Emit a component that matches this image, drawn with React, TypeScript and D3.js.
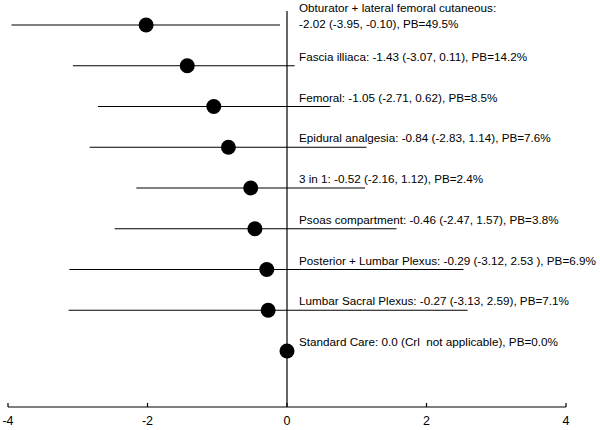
import React from "react";
import * as d3 from "d3";

const categories = [
  "Obturator + lateral femoral cutaneous",
  "Fascia illiaca",
  "Femoral",
  "Epidural analgesia",
  "3 in 1",
  "Psoas compartment",
  "Posterior + Lumbar Plexus",
  "Lumbar Sacral Plexus",
  "Standard Care",
];
const estimates = [-2.02, -1.43, -1.05, -0.84, -0.52, -0.46, -0.29, -0.27, 0.0];
const lowers = [-3.95, -3.07, -2.71, -2.83, -2.16, -2.47, -3.12, -3.13, null];
const uppers = [-0.1, 0.11, 0.62, 1.14, 1.12, 1.57, 2.53, 2.59, null];
const labels: string[][] = [
  ["Obturator + lateral femoral cutaneous:", "-2.02 (-3.95, -0.10), PB=49.5%"],
  ["Fascia illiaca: -1.43 (-3.07, 0.11), PB=14.2%"],
  ["Femoral: -1.05 (-2.71, 0.62), PB=8.5%"],
  ["Epidural analgesia: -0.84 (-2.83, 1.14), PB=7.6%"],
  ["3 in 1: -0.52 (-2.16, 1.12), PB=2.4%"],
  ["Psoas compartment: -0.46 (-2.47, 1.57), PB=3.8%"],
  ["Posterior + Lumbar Plexus: -0.29 (-3.12, 2.53 ), PB=6.9%"],
  ["Lumbar Sacral Plexus: -0.27 (-3.13, 2.59), PB=7.1%"],
  ["Standard Care: 0.0 (Crl  not applicable), PB=0.0%"],
];
const xTicks = [-4, -2, 0, 2, 4];

export default function App() {
  const W = 600, H = 430;
  const x = d3.scaleLinear().domain([-4, 4]).range([8, 566]);
  const y = d3.scalePoint<string>().domain(categories).range([25, 351]);
  const axisY = 407;
  const font = "'Liberation Sans', Arial, sans-serif";
  const fs = 11.7;
  return (
    <svg width={W} height={H} style={{ position: "absolute", left: 0, top: 0, background: "#fff" }}>
      <rect width={W} height={H} fill="#fff" />
      <line x1={x(0)} x2={x(0)} y1={11} y2={axisY} stroke="#000" strokeWidth={1.2} />
      <line x1={x(-4)} x2={x(4)} y1={axisY} y2={axisY} stroke="#000" strokeWidth={1.2} />
      {xTicks.map((t) => (
        <g key={t}>
          <line x1={x(t)} x2={x(t)} y1={axisY} y2={axisY - 4} stroke="#000" strokeWidth={1.2} />
          <text x={x(t)} y={axisY + 18} textAnchor="middle" fontFamily={font} fontSize={12.5} fill="#000">
            {t}
          </text>
        </g>
      ))}
      {categories.map((c, i) => {
        const yy = y(c)!;
        const lo = lowers[i];
        const hi = uppers[i];
        const lab = labels[i];
        return (
          <g key={c}>
            {lo !== null && hi !== null && (
              <line x1={x(lo)} x2={x(hi)} y1={yy} y2={yy} stroke="#000" strokeWidth={1.2} />
            )}
            <circle cx={x(estimates[i])} cy={yy} r={7.5} fill="#000" />
            {lab.length === 2 ? (
              <>
                <text x={299} y={12} fontFamily={font} fontSize={fs} fill="#000">{lab[0]}</text>
                <text x={299} y={28} fontFamily={font} fontSize={fs} fill="#000">{lab[1]}</text>
              </>
            ) : (
              <text x={299} y={yy - 5} fontFamily={font} fontSize={fs} fill="#000" style={{ whiteSpace: "pre" }}>
                {lab[0]}
              </text>
            )}
          </g>
        );
      })}
    </svg>
  );
}
